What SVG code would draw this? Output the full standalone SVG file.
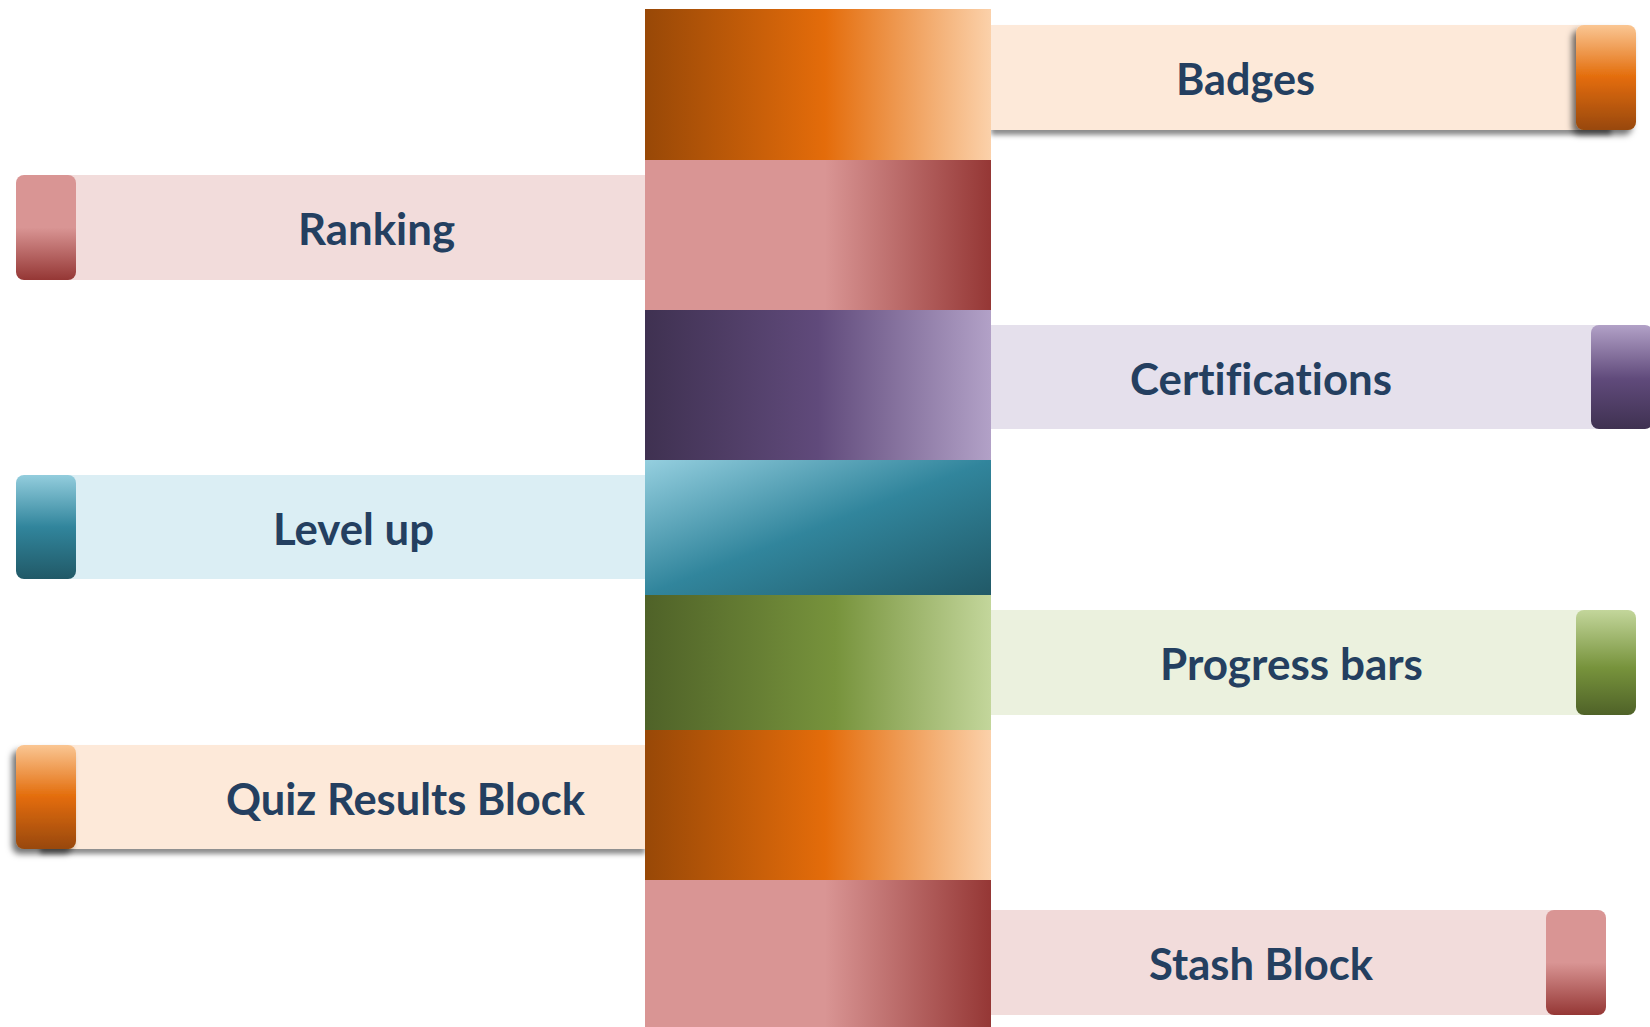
<svg xmlns="http://www.w3.org/2000/svg" width="1650" height="1027" viewBox="0 0 1650 1027">
  <defs>
    <!-- spine segment fills: horizontal, dark on the left -->
    <linearGradient id="gOrangeH" x1="0" y1="0" x2="1" y2="0">
      <stop offset="0" stop-color="#984807"/>
      <stop offset="0.52" stop-color="#E46C0A"/>
      <stop offset="1" stop-color="#FBD1AA"/>
    </linearGradient>
    <linearGradient id="gRoseH" x1="0" y1="0" x2="1" y2="0">
      <stop offset="0" stop-color="#D99594"/>
      <stop offset="0.52" stop-color="#D99594"/>
      <stop offset="1" stop-color="#953735"/>
    </linearGradient>
    <linearGradient id="gPurpleH" x1="0" y1="0" x2="1" y2="0">
      <stop offset="0" stop-color="#3F3151"/>
      <stop offset="0.5" stop-color="#604A7B"/>
      <stop offset="1" stop-color="#B2A1C7"/>
    </linearGradient>
    <linearGradient id="gTealD" x1="0" y1="0" x2="1" y2="1">
      <stop offset="0" stop-color="#95CFDF"/>
      <stop offset="0.5" stop-color="#31859C"/>
      <stop offset="1" stop-color="#215967"/>
    </linearGradient>
    <linearGradient id="gGreenH" x1="0" y1="0" x2="1" y2="0">
      <stop offset="0" stop-color="#4F6228"/>
      <stop offset="0.55" stop-color="#77933C"/>
      <stop offset="1" stop-color="#C3D69B"/>
    </linearGradient>

    <!-- end-cap fills: vertical, light at the top -->
    <linearGradient id="cOrange" x1="0" y1="0" x2="0" y2="1">
      <stop offset="0" stop-color="#FAC693"/>
      <stop offset="0.5" stop-color="#E36C0A"/>
      <stop offset="1" stop-color="#984807"/>
    </linearGradient>
    <linearGradient id="cRose" x1="0" y1="0" x2="0" y2="1">
      <stop offset="0" stop-color="#D99594"/>
      <stop offset="0.5" stop-color="#D99594"/>
      <stop offset="1" stop-color="#953735"/>
    </linearGradient>
    <linearGradient id="cPurple" x1="0" y1="0" x2="0" y2="1">
      <stop offset="0" stop-color="#B2A1C7"/>
      <stop offset="0.52" stop-color="#604A7B"/>
      <stop offset="1" stop-color="#3F3151"/>
    </linearGradient>
    <linearGradient id="cTeal" x1="0" y1="0" x2="0" y2="1">
      <stop offset="0" stop-color="#93CDDD"/>
      <stop offset="0.5" stop-color="#31859C"/>
      <stop offset="1" stop-color="#215967"/>
    </linearGradient>
    <linearGradient id="cGreen" x1="0" y1="0" x2="0" y2="1">
      <stop offset="0" stop-color="#C3D69B"/>
      <stop offset="0.55" stop-color="#77933C"/>
      <stop offset="1" stop-color="#4F6228"/>
    </linearGradient>

    <filter id="barShadow" x="-5%" y="-20%" width="110%" height="150%">
      <feDropShadow dx="0" dy="5" stdDeviation="2.5" flood-color="#000" flood-opacity="0.45"/>
    </filter>
    <filter id="capShadow" x="-40%" y="-20%" width="180%" height="150%">
      <feDropShadow dx="-4" dy="5" stdDeviation="3" flood-color="#000" flood-opacity="0.55"/>
    </filter>
  </defs>

  <style>
    .label { font-family: Lato, "Open Sans", "Liberation Sans", sans-serif; font-weight: 700; font-size: 44px; fill: #243F60; font-variant-ligatures: none; }
  </style>

  <rect width="1650" height="1027" fill="#FFFFFF"/>

  <!-- right-hand labels -->
  <g id="node-badges">
    <rect x="991" y="25" width="620" height="105" fill="#FDE9D9" filter="url(#barShadow)"/>
    <rect x="1576" y="25" width="60" height="105" rx="8" fill="url(#cOrange)" filter="url(#capShadow)"/>
    <text class="label" x="1176" y="95" textLength="139" lengthAdjust="spacingAndGlyphs">Badges</text>
  </g>

  <g id="node-certifications">
    <rect x="991" y="325" width="630" height="104" fill="#E5E0EC"/>
    <rect x="1591" y="325" width="62" height="104" rx="8" fill="url(#cPurple)"/>
    <text class="label" x="1130" y="395" textLength="262" lengthAdjust="spacingAndGlyphs">Certifications</text>
  </g>

  <g id="node-progress-bars">
    <rect x="991" y="610" width="620" height="105" fill="#EBF1DE"/>
    <rect x="1576" y="610" width="60" height="105" rx="8" fill="url(#cGreen)"/>
    <text class="label" x="1160" y="680" textLength="263" lengthAdjust="spacingAndGlyphs">Progress bars</text>
  </g>

  <g id="node-stash-block">
    <rect x="991" y="910" width="590" height="105" fill="#F2DCDB"/>
    <rect x="1546" y="910" width="60" height="105" rx="8" fill="url(#cRose)"/>
    <text class="label" x="1149" y="980" textLength="224" lengthAdjust="spacingAndGlyphs">Stash Block</text>
  </g>

  <!-- left-hand labels -->
  <g id="node-ranking">
    <rect x="40" y="175" width="605" height="105" fill="#F2DCDB"/>
    <rect x="16" y="175" width="60" height="105" rx="8" fill="url(#cRose)"/>
    <text class="label" x="298" y="245" textLength="157" lengthAdjust="spacingAndGlyphs">Ranking</text>
  </g>

  <g id="node-level-up">
    <rect x="40" y="475" width="605" height="104" fill="#DBEEF4"/>
    <rect x="16" y="475" width="60" height="104" rx="8" fill="url(#cTeal)"/>
    <text class="label" x="273" y="545" textLength="161" lengthAdjust="spacingAndGlyphs">Level up</text>
  </g>

  <g id="node-quiz-results-block">
    <rect x="40" y="745" width="605" height="104" fill="#FDE9D9" filter="url(#barShadow)"/>
    <rect x="16" y="745" width="60" height="104" rx="8" fill="url(#cOrange)" filter="url(#capShadow)"/>
    <text class="label" x="226" y="815" textLength="359" lengthAdjust="spacingAndGlyphs">Quiz Results Block</text>
  </g>

  <!-- central stacked column -->
  <g id="spine">
    <rect x="645" y="9" width="346" height="151" fill="url(#gOrangeH)"/>
    <rect x="645" y="160" width="346" height="150" fill="url(#gRoseH)"/>
    <rect x="645" y="310" width="346" height="150" fill="url(#gPurpleH)"/>
    <rect x="645" y="460" width="346" height="135" fill="url(#gTealD)"/>
    <rect x="645" y="595" width="346" height="135" fill="url(#gGreenH)"/>
    <rect x="645" y="730" width="346" height="150" fill="url(#gOrangeH)"/>
    <rect x="645" y="880" width="346" height="147" fill="url(#gRoseH)"/>
  </g>

  <g id="connectors"/>
</svg>
